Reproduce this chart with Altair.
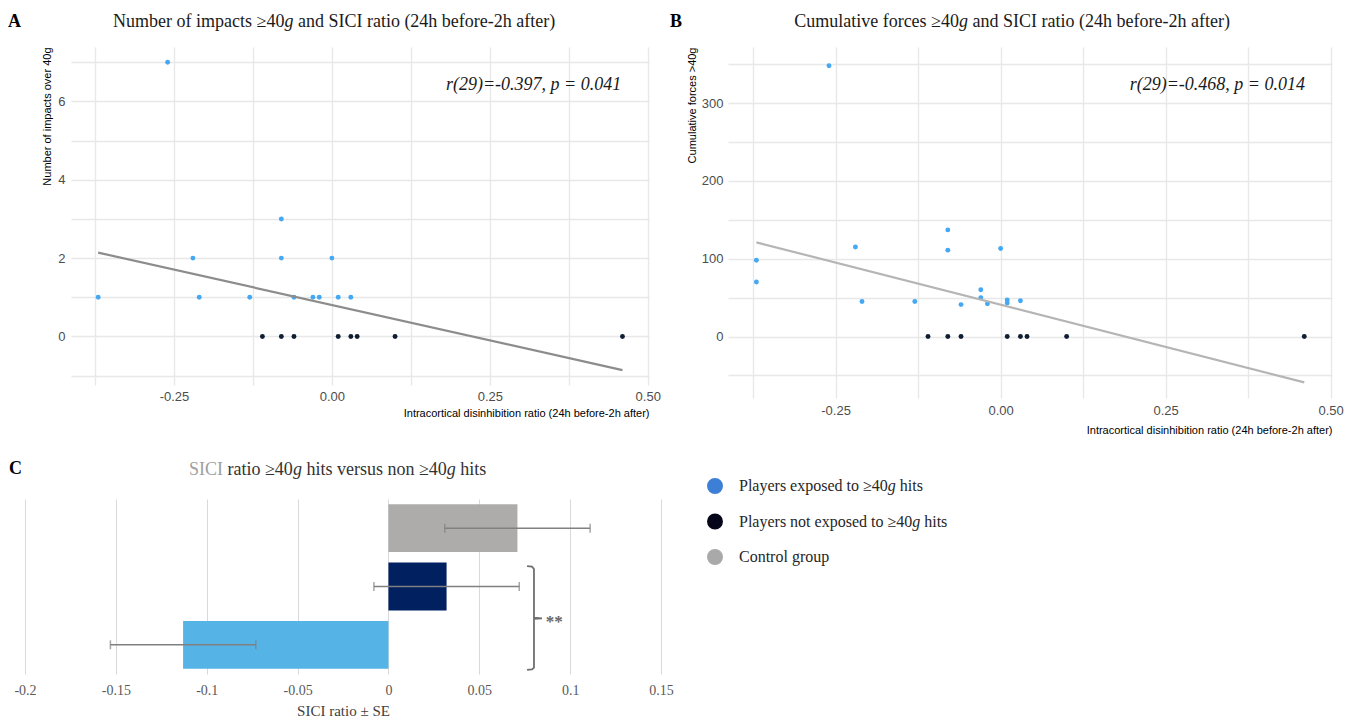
import altair as alt
import pandas as pd

SERIF = "Liberation Serif"
SANS = "Liberation Sans"

# ---------------- text ----------------
panel_letters = ["A", "B", "C"]
# titles split around the italic "g"
title_a_parts = ["Number of impacts ≥40", "g", "and SICI ratio (24h before-2h after)"]
title_b_parts = ["Cumulative forces ≥40", "g", "and SICI ratio (24h before-2h after)"]
c_title_parts = ["SICI", "ratio ≥40", "g", "hits versus non ≥40", "g", "hits"]
x_title_ab = "Intracortical disinhibition ratio (24h before-2h after)"
y_title_a = "Number of impacts over 40g"
y_title_b = "Cumulative forces >40g"
notes = ["r(29)=-0.397, p = 0.041", "r(29)=-0.468, p = 0.014"]
note_a_xy = [0.458, 6.42]
note_b_xy = [0.461, 323]

groups = ["Players exposed to ≥40g hits", "Players not exposed to ≥40g hits", "Control group"]
legend_parts = [["Players exposed to ≥40", "g", "hits"],
                ["Players not exposed to ≥40", "g", "hits"],
                ["Control group", "", ""]]

# ---------------- panel A / B data ----------------
a_exp_x = [-0.37, -0.26, -0.22, -0.21, -0.13, -0.08, -0.08, -0.06, -0.03, -0.02, 0.00, 0.01, 0.03]
a_exp_y = [1, 7, 2, 1, 1, 3, 2, 1, 1, 1, 2, 1, 1]
non_x = [-0.11, -0.08, -0.06, 0.01, 0.03, 0.04, 0.10, 0.46]
non_y = [0, 0, 0, 0, 0, 0, 0, 0]
b_exp_x = [-0.37, -0.37, -0.26, -0.22, -0.21, -0.13, -0.08, -0.08, -0.06, -0.03, -0.03, -0.02, 0.00, 0.01, 0.01, 0.03]
b_exp_y = [98, 70, 348, 115, 45, 45, 137, 111, 41, 60, 50, 42, 113, 47, 43, 46]
fit_x = [-0.37, 0.46]
fit_a_y = [2.14, -0.86]
fit_b_y = [121, -59]

x_ticks_ab = [-0.375, -0.25, -0.125, 0.0, 0.125, 0.25, 0.375, 0.5]
y_ticks_a = [-1, 0, 1, 2, 3, 4, 5, 6, 7]
y_ticks_b = [-50, 0, 50, 100, 150, 200, 250, 300, 350]
x_domain_ab = [-0.413, 0.502]
y_domain_a = [-1.24, 7.39]
y_domain_b = [-79, 372]

# ---------------- panel C data ----------------
c_groups = ["Control group", "Players not exposed to ≥40g hits", "Players exposed to ≥40g hits"]
c_means = [0.071, 0.032, -0.113]
c_se = [0.040, 0.040, 0.040]
c_x_ticks = [-0.2, -0.15, -0.1, -0.05, 0, 0.05, 0.1, 0.15]
c_x_domain = [-0.2, 0.15]
c_x_title = "SICI ratio ± SE"
brace_x = [0.0763, 0.0790, 0.0801, 0.0801, 0.0845, 0.0801, 0.0801, 0.0790, 0.0763]
brace_y = [1.149, 1.160, 1.20, 2.035, 2.045, 2.055, 2.89, 2.92, 2.93]
signif_text = ["**"]
signif_xy = [0.0866, 2.11]

# ---------------- colours ----------------
point_colors = ["#45a8f2", "#0f1e33"]
line_colors = ["#8c8c8c", "#b5b5b5"]
bar_colors = ["#aeabab", "#002060", "#56b3e6"]
legend_colors = ["#3d7fd6", "#06061a", "#a9a9a9"]

X_LABEL_EXPR = ("abs(datum.value*4 - round(datum.value*4)) < 0.001 ? "
                "replace(format(datum.value, '.2f'), '\u2212', '-') : ''")


def seg(t, x, y, align, size, color="#1a1a1a", style="normal", weight="normal"):
    return alt.Chart(pd.DataFrame({"t": [t]})).mark_text(
        align=align, baseline="alphabetic", font=SERIF, fontSize=size, fontStyle=style,
        fontWeight=weight, color=color).encode(x=alt.value(x), y=alt.value(y), text="t:N")


def title_marks(parts, anchor, y):
    # part 0 ends at anchor, italic g starts at anchor, part 2 after g + space
    return [seg(parts[0], anchor, y, "right", 18),
            seg(parts[1], anchor, y, "left", 18, style="italic"),
            seg(parts[2], anchor + 13.5, y, "left", 18)]


def scatter_panel(ex, ey, nx, ny, fit_y, ydom, yticks, ylabel_expr, ytitle,
                  tparts, letter, note, note_xy, line_color, w, h,
                  letter_x, text_y, anchor, lab_pad, tit_pad, ylab_pad, ytit_pad):
    pts = pd.DataFrame({
        "x": ex + nx,
        "y": ey + ny,
        "g": [groups[0]] * len(ex) + [groups[1]] * len(nx),
    })
    fit = pd.DataFrame({"x": fit_x, "y": fit_y})
    xs = alt.Scale(domain=x_domain_ab, nice=False, zero=False)
    ys = alt.Scale(domain=ydom, nice=False, zero=False)
    xa = alt.Axis(values=x_ticks_ab, labelExpr=X_LABEL_EXPR, title=x_title_ab,
                  titleAnchor="end", titleFont=SANS, titleFontSize=11,
                  titleFontWeight="normal", titleColor="#000000", titlePadding=tit_pad,
                  labelFont=SANS, labelFontSize=13, labelColor="#4d4d4d",
                  labelPadding=lab_pad, labelFlush=False, labelOverlap=False,
                  domain=False, ticks=False, grid=True, gridColor="#e8e8e8", gridWidth=1.4)
    ya = alt.Axis(values=yticks, labelExpr=ylabel_expr, title=ytitle,
                  titleAnchor="end", titleFont=SANS, titleFontSize=11,
                  titleFontWeight="normal", titleColor="#000000", titlePadding=ytit_pad,
                  labelFont=SANS, labelFontSize=13, labelColor="#4d4d4d",
                  labelPadding=ylab_pad, labelFlush=False, labelOverlap=False,
                  domain=False, ticks=False, grid=True, gridColor="#e8e8e8", gridWidth=1.4)
    X = alt.X("x:Q", scale=xs, axis=xa)
    Y = alt.Y("y:Q", scale=ys, axis=ya)
    points = alt.Chart(pts).mark_circle(size=24, opacity=1).encode(
        x=X, y=Y,
        color=alt.Color("g:N", scale=alt.Scale(domain=groups[:2], range=point_colors), legend=None),
    )
    line = alt.Chart(fit).mark_line(color=line_color, strokeWidth=2.2).encode(x=X, y=Y)
    nd = pd.DataFrame({"x": [note_xy[0]], "y": [note_xy[1]], "t": [note]})
    note_mark = alt.Chart(nd).mark_text(
        align="right", baseline="middle", font=SERIF, fontStyle="italic",
        fontSize=18, color="#1a1a1a").encode(x=X, y=Y, text="t:N")
    letter_mark = seg(letter, letter_x, text_y, "left", 18, color="#000000", weight="bold")
    layers = [points, line, note_mark, letter_mark] + title_marks(tparts, anchor, text_y)
    return alt.layer(*layers).properties(width=w, height=h)


panel_a = scatter_panel(a_exp_x, a_exp_y, non_x, non_y, fit_a_y, y_domain_a, y_ticks_a,
                        "datum.value >= 0 && datum.value % 2 == 0 ? datum.label : ''",
                        y_title_a, title_a_parts, panel_letters[0], notes[0], note_a_xy,
                        line_colors[0], 578, 338, -63, -20, 213.4, 5, 4, 6, 5)
panel_b = scatter_panel(b_exp_x, b_exp_y, non_x, non_y, fit_b_y, y_domain_b, y_ticks_b,
                        "datum.value >= 0 && datum.value % 100 == 0 ? datum.label : ''",
                        y_title_b, title_b_parts, panel_letters[1], notes[1], note_b_xy,
                        line_colors[1], 604, 351, -58, -20, 231, 6, 7, 5, 4)

# ---------------- panel C ----------------
c_df = pd.DataFrame({"group": c_groups, "mean": c_means, "se": c_se})
c_base = alt.Chart(c_df).transform_calculate(lo="datum.mean - datum.se", hi="datum.mean + datum.se")
# the plot area of C starts 46px left of the column origin shared with panel A
cxs = alt.Scale(domain=c_x_domain, range=[-46, 590], nice=False, zero=False)
cxa = alt.Axis(values=c_x_ticks,
               labelExpr="replace(format(datum.value, '~g'), '\u2212', '-')",
               title=c_x_title, titleFont=SERIF, titleFontSize=15, titleFontWeight="normal",
               titleColor="#404040", titlePadding=6,
               labelFont=SERIF, labelFontSize=14, labelColor="#595959", labelPadding=9,
               labelFlush=False, labelOverlap=False, domain=False, ticks=False,
               grid=True, gridColor="#d9d9d9", gridWidth=1)
band_y = alt.Y("group:N", sort=c_groups, axis=None,
               scale=alt.Scale(type="band", domain=c_groups, paddingInner=0.18, paddingOuter=0.09))
bars = c_base.mark_bar().encode(
    x=alt.X("mean:Q", scale=cxs, axis=cxa), x2=alt.datum(0), y=band_y,
    color=alt.Color("group:N", scale=alt.Scale(domain=c_groups, range=bar_colors), legend=None),
)
err = c_base.mark_rule(color="#808080", strokeWidth=1.5).encode(
    x=alt.X("lo:Q", scale=cxs, axis=cxa), x2="hi:Q", y=band_y)
cap_lo = c_base.mark_tick(color="#808080", thickness=1.5, size=9).encode(
    x=alt.X("lo:Q", scale=cxs, axis=cxa), y=band_y)
cap_hi = c_base.mark_tick(color="#808080", thickness=1.5, size=9).encode(
    x=alt.X("hi:Q", scale=cxs, axis=cxa), y=band_y)
bar_layer = alt.layer(bars, err, cap_lo, cap_hi)

brace_df = pd.DataFrame({"bx": brace_x, "by": brace_y, "i": list(range(len(brace_x)))})
qy = alt.Scale(domain=[0, 3], reverse=True, nice=False, zero=False)
brace = alt.Chart(brace_df).mark_line(color="#707070", strokeWidth=1.8).encode(
    x=alt.X("bx:Q", scale=cxs, axis=cxa), y=alt.Y("by:Q", scale=qy, axis=None), order="i:Q")
sig_df = pd.DataFrame({"sx": [signif_xy[0]], "sy": [signif_xy[1]], "t": signif_text})
sig = alt.Chart(sig_df).mark_text(align="left", baseline="middle", font=SERIF, fontSize=17,
                                  fontWeight="bold", color="#666666").encode(
    x=alt.X("sx:Q", scale=cxs, axis=cxa), y=alt.Y("sy:Q", scale=qy, axis=None), text="t:N")
brace_layer = alt.layer(brace, sig)

c_letter = seg(panel_letters[2], -62, -25, "left", 18, color="#000000", weight="bold")
c_title = [
    seg(c_title_parts[0], 152, -24, "right", 18, color="#a0a0a0"),
    seg(c_title_parts[1], 156.5, -24, "left", 18, color="#333333"),
    seg(c_title_parts[2], 221.9, -24, "left", 18, color="#333333", style="italic"),
    seg(c_title_parts[3], 235.4, -24, "left", 18, color="#333333"),
    seg(c_title_parts[4], 375.8, -24, "left", 18, color="#333333", style="italic"),
    seg(c_title_parts[5], 389.3, -24, "left", 18, color="#333333"),
]

panel_c = alt.layer(bar_layer, brace_layer, c_letter, *c_title).resolve_scale(
    y="independent").properties(width=590, height=175)

# ---------------- legend ----------------
leg_df = pd.DataFrame({"label": groups, "color": legend_colors})
leg_pos = [-13, 22.5, 58]
leg_y = alt.Y("label:N", sort=groups, axis=None,
              scale=alt.Scale(type="point", padding=0, range=[leg_pos[0], leg_pos[-1]]))
leg_circ = alt.Chart(leg_df).mark_circle(size=254, opacity=1).encode(
    x=alt.value(0), y=leg_y, color=alt.Color("color:N", scale=None))
leg_text_x = [[24, 172.8, 184.8], [24, 197.2, 209.2], [24, 0, 0]]
leg_marks = []
for parts, xs_, yv in zip(legend_parts, leg_text_x, leg_pos):
    for k, (p, xv) in enumerate(zip(parts, xs_)):
        if p:
            leg_marks.append(
                alt.Chart(pd.DataFrame({"t": [p]})).mark_text(
                    align="left", baseline="middle", font=SERIF, fontSize=16,
                    fontStyle="italic" if k == 1 else "normal", color="#262626"
                ).encode(x=alt.value(xv), y=alt.value(yv), text="t:N"))
legend = alt.layer(leg_circ, *leg_marks).properties(width=230, height=60)

row1 = alt.hconcat(panel_a, panel_b, spacing=9).resolve_scale(color="independent")
row2 = alt.hconcat(panel_c, legend, spacing=0).resolve_scale(color="independent")
chart = alt.vconcat(row1, row2, spacing=25).resolve_scale(color="independent").properties(
    padding={"left": 0, "top": 5, "right": 0, "bottom": 0}, background="white"
).configure_view(stroke="transparent", strokeWidth=0)

chart.save("out.html", embed_options={"renderer": "svg", "actions": False})
